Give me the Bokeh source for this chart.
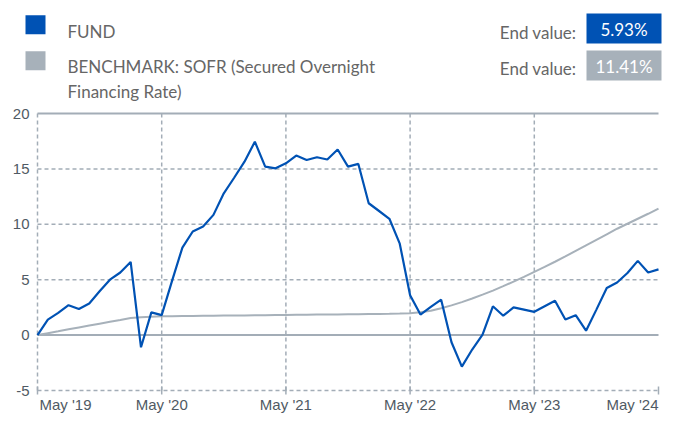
import math
from bokeh.plotting import figure
from bokeh.models import Range1d
from bokeh.embed import file_html
from bokeh.resources import INLINE
from bokeh.core.properties import value

# ---------------- data ----------------
months = list(range(61))  # May '19 .. May '24, monthly
fund = [0.0, 1.4, 2.0, 2.7, 2.35, 2.85, 3.95, 5.0, 5.65, 6.6,
        -1.1, 2.05, 1.8, 4.9, 7.9, 9.35, 9.8, 10.85, 12.8, 14.2,
        15.65, 17.45, 15.2, 15.05, 15.5, 16.2, 15.8, 16.05, 15.85, 16.75,
        15.2, 15.45, 11.9, 11.2, 10.5, 8.25, 3.6, 1.85, 2.55, 3.2,
        -0.65, -2.85, -1.3, 0.05, 2.6, 1.75, 2.5, 2.3, 2.1, 2.6,
        3.1, 1.4, 1.8, 0.4, 2.3, 4.25, 4.75, 5.6, 6.7, 5.65, 5.93]
benchmark = [0.0, 0.17, 0.34, 0.52, 0.69, 0.86, 1.03, 1.2, 1.37, 1.55,
             1.62, 1.66, 1.7, 1.71, 1.72, 1.73, 1.74, 1.75, 1.76, 1.77,
             1.78, 1.79, 1.8, 1.81, 1.82, 1.83, 1.84, 1.85, 1.86, 1.87,
             1.88, 1.89, 1.9, 1.91, 1.92, 1.94, 1.98, 2.06, 2.2, 2.42,
             2.68, 2.98, 3.3, 3.65, 4.02, 4.42, 4.83, 5.25, 5.7, 6.15,
             6.62, 7.1, 7.6, 8.1, 8.6, 9.1, 9.6, 10.05, 10.5, 10.95, 11.41]
tick_months = [0, 12, 24, 36, 48, 60]
tick_labels = ["May '19", "May '20", "May '21", "May '22", "May '23", "May '24"]
y_ticks = [-5, 0, 5, 10, 15, 20]
y_tick_labels = ["-5", "0", "5", "10", "15", "20"]
dashed_levels = [-5, 5, 10, 15]
solid_levels = [0, 20]
legend_fund = ["FUND"]
legend_bench = ["BENCHMARK: SOFR (Secured Overnight", "Financing Rate)"]
end_label = "End value:"
end_values = ["5.93%", "11.41%"]

# ---------------- style / layout ----------------
BLUE = "#0052B4"
GRAY = "#A7B1BA"
GRID = "#A3ADB7"
TXT = "#666666"
AXT = "#505A64"
LFONT = value("Lato")
AFONT = value("Liberation Sans")
W, H = 662, 414
# pixel box of the chart area inside the canvas
PX_LEFT, PX_RIGHT = 37, 658
PX_TOP, PX_BOTTOM = 113, 390
x0, x1 = tick_months[0], tick_months[-1]
v0, v1 = y_ticks[0], y_ticks[-1]
xs = (PX_RIGHT - PX_LEFT) / (x1 - x0)
ys = (PX_BOTTOM - PX_TOP) / (v1 - v0)

p = figure(width=W, height=H, x_range=Range1d(0, W), y_range=Range1d(H, 0),
           x_axis_location=None, y_axis_location=None, min_border=0,
           toolbar_location=None, output_backend="svg")
p.grid.visible = False
p.outline_line_color = None
# chart scales (months, percent) mapped onto the chart area
p.extra_x_ranges = {"m": Range1d(x0 - PX_LEFT / xs, x1 + (W - PX_RIGHT) / xs)}
p.extra_y_ranges = {"v": Range1d(v0 - (H - PX_BOTTOM) / ys, v1 + PX_TOP / ys)}
C = dict(x_range_name="m", y_range_name="v")

# grid (no vertical line on the right plot edge)
gx = tick_months[:-1]
p.segment(x0=gx, y0=[v0] * len(gx), x1=gx, y1=[v1] * len(gx),
          line_color=GRID, line_width=1.5, line_dash="4 3", **C)
p.segment(x0=[x0] * len(dashed_levels), y0=dashed_levels, x1=[x1] * len(dashed_levels),
          y1=dashed_levels, line_color=GRID, line_width=1.5, line_dash="4 3", **C)
p.segment(x0=[x0] * len(solid_levels), y0=solid_levels, x1=[x1] * len(solid_levels),
          y1=solid_levels, line_color=GRID, line_width=2, **C)
# x ticks
p.scatter(x=tick_months, y=[v0] * len(tick_months), marker="dash", angle=math.pi / 2,
          size=8, line_color=GRID, line_width=1.5, **C)

# series
p.line(months, benchmark, line_color=GRAY, line_width=2, **C)
p.line(months, fund, line_color=BLUE, line_width=2.2, **C)

# y tick labels
p.text(x=[x0] * len(y_ticks), y=y_ticks, text=y_tick_labels, x_offset=-8,
       text_align="right", text_baseline="middle", text_font=AFONT,
       text_font_size="15px", text_color=AXT, **C)
# x tick labels
xl = dict(text_font=AFONT, text_font_size="15px", text_color=AXT,
          text_baseline="alphabetic", y_offset=14, **C)
p.text(x=tick_months[:1], y=[v0], text=tick_labels[:1], text_align="left", x_offset=2, **xl)
p.text(x=tick_months[1:-1], y=[v0] * 4, text=tick_labels[1:-1], text_align="center", **xl)
p.text(x=tick_months[-1:], y=[v0], text=tick_labels[-1:], text_align="right", **xl)

# legend header (canvas pixel coordinates)
p.rect(x=[35, 35], y=[24.3, 60.3], width=20, height=19,
       fill_color=[BLUE, GRAY], line_color=None)
lt = dict(text_font=LFONT, text_font_size="17px", text_color=TXT, text_baseline="alphabetic")
p.text(x=[67], y=[31], text=legend_fund, **lt)
p.text(x=[67, 67], y=[66, 91], text=legend_bench, **lt)
p.text(x=[576, 576], y=[32, 68], text=[end_label, end_label], text_align="right", **lt)
p.rect(x=[623.5, 623.5], y=[28, 65], width=75, height=30,
       fill_color=[BLUE, GRAY], line_color=None)
p.text(x=[623.5, 623.5], y=[29, 66], text=end_values, text_font=LFONT, text_font_size="17px",
       text_color="white", text_align="center", text_baseline="middle")

open("out.html", "w").write(file_html(p, INLINE))
